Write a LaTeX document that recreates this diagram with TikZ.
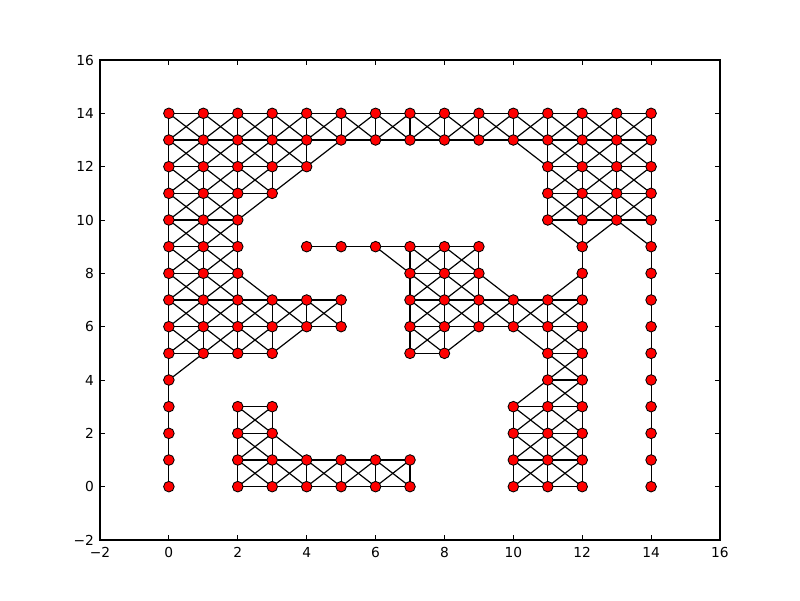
\documentclass[tikz,border=0pt]{standalone}
\usepackage{fontspec}
\setmainfont{DejaVu Sans}
\tikzset{
  vtx/.style={circle,draw=black,fill=red,line width=0.6pt,minimum size=0.265cm,inner sep=0pt,outer sep=0pt},
  edg/.style={black,line width=0.85pt},
  axtick/.style={black,line width=0.6pt},
  ticklab/.style={inner sep=0pt}
}
\begin{document}
\begin{tikzpicture}[x=0.86111cm,y=0.66667cm,font=\fontsize{9.8}{11}\selectfont]
  \useasboundingbox (-4.903,-4.25) rectangle (18.3226,18.25);
  % axes frame
  \draw[line width=0.75pt] (-2,-2) rectangle (16,16);
  % ticks on all four sides
  \foreach \t in {-2,0,...,16} {
    \draw[axtick] (\t,-2) -- ++(0,0.19);
    \draw[axtick] (\t,16) -- ++(0,-0.19);
    \draw[axtick] (-2,\t) -- ++(0.145,0);
    \draw[axtick] (16,\t) -- ++(-0.145,0);
  }
  % tick labels
  \foreach \t/\lab in {-2/−2,0/0,2/2,4/4,6/6,8/8,10/10,12/12,14/14,16/16} {
    \node[ticklab,anchor=north] (xl\t) at (\t,-2.28) {\lab};
    \node[ticklab,anchor=east] (yl\t) at (-2.17,\t) {\lab};
  }
  % vertices, row by row
  \foreach \y/\row in {14/{0,...,14},13/{0,...,14},12/{0,...,4,11,12,13,14},
      11/{0,...,3,11,12,13,14},10/{0,1,2,11,12,13,14},
      9/{0,1,2,4,5,6,7,8,9,12,14},8/{0,1,2,7,8,9,12,14},
      7/{0,...,5,7,8,9,10,11,12,14},6/{0,...,5,7,8,9,10,11,12,14},
      5/{0,1,2,3,7,8,11,12,14},4/{0,11,12,14},
      3/{0,2,3,10,11,12,14},2/{0,2,3,10,11,12,14},
      1/{0,2,3,4,5,6,7,10,11,12,14},0/{0,2,3,4,5,6,7,10,11,12,14}} {
    \foreach \x in \row {
      \node[vtx] (n-\x-\y) at (\x,\y) {};
    }
  }
  % edges: every pair of neighbouring vertices (king moves)
  \foreach \x in {0,...,14} {
    \foreach \y in {0,...,14} {
      \pgfmathtruncatemacro\xa{\x+1}
      \pgfmathtruncatemacro\ya{\y+1}
      \pgfmathtruncatemacro\yb{\y-1}
      \ifcsname pgf@sh@ns@n-\x-\y\endcsname
        \ifcsname pgf@sh@ns@n-\xa-\y\endcsname
          \draw[edg] (n-\x-\y) -- (n-\xa-\y);
        \fi
        \ifcsname pgf@sh@ns@n-\x-\ya\endcsname
          \draw[edg] (n-\x-\y) -- (n-\x-\ya);
        \fi
        \ifcsname pgf@sh@ns@n-\xa-\ya\endcsname
          \draw[edg] (n-\x-\y) -- (n-\xa-\ya);
        \fi
        \ifcsname pgf@sh@ns@n-\xa-\yb\endcsname
          \draw[edg] (n-\x-\y) -- (n-\xa-\yb);
        \fi
      \fi
    }
  }
\end{tikzpicture}
\end{document}
